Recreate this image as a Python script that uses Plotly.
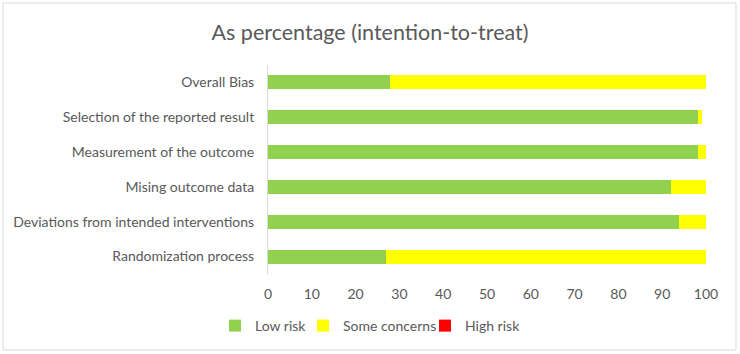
import plotly.graph_objects as go

categories = ["Randomization process", "Deviations from intended interventions",
              "Mising outcome data", "Measurement of the outcome",
              "Selection of the reported result", "Overall Bias"]
low_risk = [26.9, 93.8, 91.9, 98.1, 98.1, 27.8]
some_concerns = [73.1, 6.2, 8.1, 1.9, 0.9, 72.2]
high_risk = [0, 0, 0, 0, 0, 0]
tick_vals = [0, 10, 20, 30, 40, 50, 60, 70, 80, 90, 100]

font_family = "Lato, Carlito, Calibri, sans-serif"
grey = "#595959"

fig = go.Figure()
fig.add_trace(go.Bar(y=categories, x=low_risk, name="Low risk", orientation="h",
                     marker_color="#92d050", marker_line_width=0, legend="legend"))
fig.add_trace(go.Bar(y=categories, x=some_concerns, name="Some concerns", orientation="h",
                     marker_color="#ffff00", marker_line_width=0, legend="legend2"))
fig.add_trace(go.Bar(y=categories, x=high_risk, name="High risk", orientation="h",
                     marker_color="#ff0000", marker_line_width=0, legend="legend3"))

W, H = 740, 354
L, R, T, B = 268, 34, 65, 80
pw, ph = W - L - R, H - T - B


def px_x(px):
    return (px - L) / pw


def px_y(py):
    return (H - B - py) / ph


def leg(px_left):
    return dict(orientation="h", x=px_x(px_left), xanchor="left", y=px_y(326),
                yanchor="middle", font=dict(size=14, color=grey), itemwidth=30,
                bgcolor="rgba(0,0,0,0)")


fig.update_layout(
    barmode="stack",
    bargap=0.6,
    width=W, height=H,
    margin=dict(l=L, r=R, t=T, b=B),
    paper_bgcolor="white", plot_bgcolor="white",
    font=dict(family=font_family, color=grey, size=14),
    title=dict(text="As percentage (intention-to-treat)", x=0.5, xref="container",
               y=1 - 32 / H, yref="container", yanchor="middle",
               font=dict(size=21.5, color=grey, family=font_family)),
    showlegend=True,
    legend=leg(215),
    legend2=leg(303),
    legend3=leg(425),
    shapes=[dict(type="rect", xref="paper", yref="paper", x0=px_x(3), x1=px_x(736),
                 y0=px_y(350), y1=px_y(3), line=dict(color="#d9d9d9", width=1))],
)
fig.update_xaxes(range=[0, 100], tickvals=tick_vals, showgrid=False, zeroline=False,
                 showline=False, ticks="", ticklabelstandoff=10,
                 tickfont=dict(size=14, color=grey))
fig.update_yaxes(showgrid=False, showline=True, linecolor="#d9d9d9", linewidth=1,
                 ticks="", ticklabelstandoff=10, tickfont=dict(size=14, color=grey))

fig.write_html("out.html", config={"displayModeBar": False},
               post_script="document.body.style.margin='0';")
